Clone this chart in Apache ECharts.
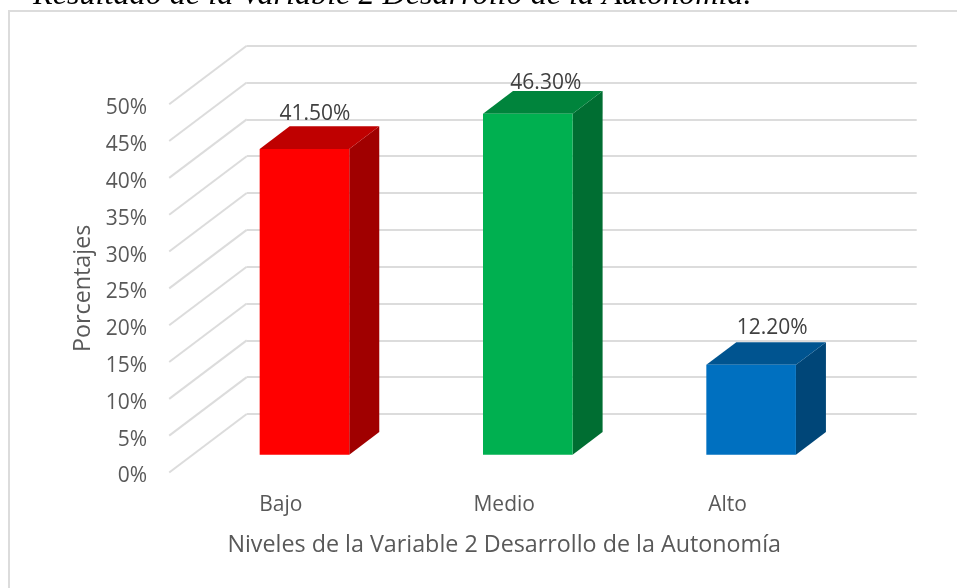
<!DOCTYPE html>
<html>
<head>
<meta charset="utf-8">
<style>html,body{margin:0;padding:0;background:#fff}#chart{width:957px;height:588px}</style>
<script src="https://cdn.jsdelivr.net/npm/echarts@6/dist/echarts.min.js"></script>
</head>
<body>
<div id="chart"></div>
<script>
var categories = ['Bajo', 'Medio', 'Alto'];
var values = [41.5, 46.3, 12.2];
var valueLabels = ['41.50%', '46.30%', '12.20%'];
var ticks = [0, 5, 10, 15, 20, 25, 30, 35, 40, 45, 50];

var frontColors = ['#ff0000', '#00b050', '#0070c0'];
var topColors = ['#bf0000', '#00843c', '#005490'];
var sideColors = ['#a00000', '#006e32', '#004678'];

// depth of the 3d box, measured from the back wall
var floorDx = -77.5, floorDy = 58.5;
var barFrontDx = -53.9, barFrontDy = 40.7;
var barDepthDx = 30, barDepthDy = -22.7;
var barWidth = 89.6;
var labelDx = [10.5, 18, 21], labelDy = [-35, -31, -37];
var textColor = '#595959';
var gridColor = '#dcdcdc';

var chart = echarts.init(document.getElementById('chart'));

function renderBar(params, api) {
  var i = api.value(0);
  var base = api.coord([i, 0]);
  var top = api.coord([i, api.value(1)]);
  var x0 = base[0] + barFrontDx - barWidth / 2;
  var x1 = x0 + barWidth;
  var y0 = base[1] + barFrontDy;
  var y1 = top[1] + barFrontDy;
  var dx = barDepthDx, dy = barDepthDy;
  return {
    type: 'group',
    children: [
      { type: 'polygon', shape: { points: [[x1, y0], [x1 + dx, y0 + dy], [x1 + dx, y1 + dy], [x1, y1]] }, style: { fill: sideColors[i] } },
      { type: 'polygon', shape: { points: [[x0, y1], [x1, y1], [x1 + dx, y1 + dy], [x0 + dx, y1 + dy]] }, style: { fill: topColors[i] } },
      { type: 'rect', shape: { x: x0, y: y1, width: barWidth, height: y0 - y1 }, style: { fill: frontColors[i] } },
      { type: 'text', style: { x: (x0 + x1) / 2 + labelDx[i], y: y1 + labelDy[i], text: valueLabels[i], fill: '#404040', font: '21px "Open Sans"', align: 'center', verticalAlign: 'middle' } }
    ]
  };
}

function renderDiagonal(params, api) {
  var p = api.coord([0, api.value(0)]);
  var x = params.coordSys.x;
  return {
    type: 'line',
    shape: { x1: x, y1: p[1], x2: x + floorDx, y2: p[1] + floorDy },
    style: { stroke: gridColor, lineWidth: 2 }
  };
}

chart.setOption({
  animation: false,
  backgroundColor: '#fff',
  graphic: [
    { type: 'line', shape: { x1: 8, y1: 11, x2: 957, y2: 11 }, style: { stroke: gridColor, lineWidth: 2 }, z: 0 },
    { type: 'line', shape: { x1: 9, y1: 11, x2: 9, y2: 588 }, style: { stroke: gridColor, lineWidth: 2 }, z: 0 },
    { type: 'text', x: 33, y: -20, style: { text: 'Resultado de la Variable 2 Desarrollo de la Autonomía.', fill: '#000', font: 'italic 32.2px "Liberation Serif"', align: 'left', verticalAlign: 'top' }, z: 5 }
  ],
  // grid 0 is the back wall, grid 1 only carries the axis texts at the front of the floor
  grid: [
    { left: 246.7, top: 45.7, width: 670, height: 368.3 },
    { left: 169.2, top: 108.2, width: 670, height: 368.3 }
  ],
  xAxis: [
    { type: 'category', gridIndex: 0, data: categories, axisLine: { show: false }, axisTick: { show: false }, axisLabel: { show: false } },
    {
      type: 'category', gridIndex: 1, data: categories,
      axisLine: { show: false }, axisTick: { show: false },
      axisLabel: { color: textColor, fontFamily: 'Open Sans', fontSize: 21, margin: 18 },
      name: 'Niveles de la Variable 2 Desarrollo de la Autonomía',
      nameLocation: 'middle', nameGap: 57,
      nameTextStyle: { color: textColor, fontFamily: 'Open Sans', fontSize: 23.3 }
    }
  ],
  yAxis: [
    {
      type: 'value', gridIndex: 0, min: 0, max: 50, interval: 5,
      axisLine: { show: false }, axisTick: { show: false }, axisLabel: { show: false },
      splitLine: { lineStyle: { color: gridColor, width: 2 } }
    },
    {
      type: 'value', gridIndex: 1, min: 0, max: 50, interval: 5,
      axisLine: { show: false }, axisTick: { show: false }, splitLine: { show: false },
      axisLabel: { color: textColor, fontFamily: 'Open Sans', fontSize: 21, margin: 22, formatter: function (v) { return ticks.indexOf(v) >= 0 ? v + '%' : ''; } },
      name: 'Porcentajes', nameLocation: 'middle', nameGap: 74, nameRotate: 90,
      nameTextStyle: { color: textColor, fontFamily: 'Open Sans', fontSize: 23.3, padding: [0, 0, 0, 8] }
    }
  ],
  series: [
    {
      type: 'custom', xAxisIndex: 0, yAxisIndex: 0, renderItem: renderDiagonal, silent: true, z: 1,
      data: ticks.map(function (t) { return [t]; }), encode: { y: 0 }
    },
    {
      type: 'custom', xAxisIndex: 0, yAxisIndex: 0, renderItem: renderBar, z: 3,
      data: values.map(function (v, i) { return [i, v]; }), encode: { x: 0, y: 1 }
    }
  ]
});
</script>
</body>
</html>
